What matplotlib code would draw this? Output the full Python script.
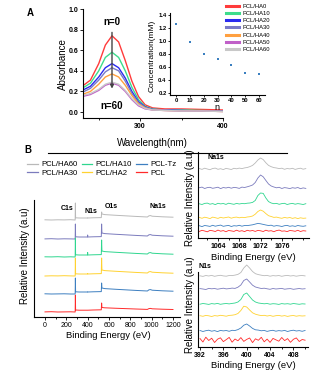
import numpy as np
import matplotlib
matplotlib.use('Agg')
import matplotlib.pyplot as plt
from matplotlib.lines import Line2D

plt.rcParams['font.family'] = ['Liberation Sans', 'DejaVu Sans']

# ---------------- Panel A data ----------------
wavelength = [230, 240, 250, 258, 266, 274, 282, 290, 298, 306, 315, 330, 350, 375, 400]
abs_labels = ['PCL/HA0', 'PCL/HA10', 'PCL/HA20', 'PCL/HA30', 'PCL/HA40', 'PCL/HA50', 'PCL/HA60']
abs_ha0 = [0.25, 0.31, 0.47, 0.65, 0.74, 0.68, 0.50, 0.30, 0.15, 0.07, 0.04, 0.03, 0.03, 0.025, 0.02]
abs_ha10 = [0.23, 0.28, 0.40, 0.53, 0.58, 0.53, 0.40, 0.24, 0.12, 0.055, 0.03, 0.02, 0.02, 0.015, 0.01]
abs_ha20 = [0.21, 0.25, 0.34, 0.43, 0.47, 0.43, 0.33, 0.20, 0.10, 0.05, 0.025, 0.02, 0.015, 0.01, 0.01]
abs_ha30 = [0.19, 0.23, 0.31, 0.39, 0.43, 0.40, 0.30, 0.18, 0.09, 0.045, 0.025, 0.02, 0.015, 0.01, 0.01]
abs_ha40 = [0.17, 0.20, 0.27, 0.34, 0.37, 0.34, 0.26, 0.16, 0.08, 0.04, 0.02, 0.015, 0.01, 0.01, 0.005]
abs_ha50 = [0.15, 0.17, 0.21, 0.26, 0.28, 0.26, 0.20, 0.12, 0.06, 0.03, 0.02, 0.015, 0.01, 0.01, 0.005]
abs_ha60 = [0.16, 0.18, 0.22, 0.27, 0.29, 0.27, 0.21, 0.13, 0.07, 0.035, 0.02, 0.015, 0.01, 0.01, 0.005]
abs_colors = ['#ff3b3b', '#3ddc8c', '#2a2af0', '#7a7ac8', '#ffa040', '#c060c8', '#c8c8c8']

n_values = [0, 10, 20, 30, 40, 50, 60]
concentration = [1.26, 0.99, 0.80, 0.72, 0.63, 0.51, 0.50]

# ---------------- Panel B data ----------------
xps_labels = ['PCL/HA60', 'PCL/HA30', 'PCL/HA10', 'PCL/HA2', 'PCL-Tz', 'PCL']
xps_colors = ['#b9b9b9', '#7b7bbd', '#2fd68f', '#ffd230', '#3d7fc0', '#ff2a2a']

survey_E = [0, 60, 120, 180, 240, 283, 285, 287, 320, 398, 400, 402, 450, 528, 531, 534,
            560, 650, 750, 850, 960, 975, 990, 1005, 1100, 1200]
survey_ha60 = [0.2, 0.0, 0.2, 0.1, 0.3, 0.0, 17, 2.2, 2.0, 2.0, 2.3, 2.0, 2.2, 2.4, 8, 6.0,
               5.4, 4.8, 4.2, 3.6, 3.0, 4.2, 4.4, 3.8, 3.2, 2.8]
survey_ha30 = [0.1, 0.3, 0.0, 0.2, 0.1, 0.0, 15, 2.2, 2.0, 2.0, 4.0, 2.0, 2.2, 2.4, 15, 6.0,
               5.4, 4.8, 4.2, 3.6, 3.0, 4.2, 4.4, 3.8, 3.2, 2.8]
survey_ha10 = [0.2, 0.1, 0.3, 0.0, 0.2, 0.0, 19, 2.2, 2.0, 2.0, 4.5, 2.0, 2.2, 2.4, 17, 6.0,
               5.4, 4.8, 4.2, 3.6, 3.0, 4.2, 4.4, 3.8, 3.2, 2.8]
survey_ha2 = [0.0, 0.2, 0.1, 0.3, 0.1, 0.0, 18, 2.2, 2.0, 2.0, 2.5, 2.0, 2.2, 2.4, 18, 6.0,
              5.4, 4.8, 4.2, 3.6, 3.0, 4.2, 4.4, 3.8, 3.2, 2.8]
survey_tz = [0.2, 0.0, 0.1, 0.2, 0.0, 0.0, 16, 2.2, 2.0, 2.0, 2.3, 2.0, 2.2, 2.4, 11, 6.0,
             5.4, 4.8, 4.2, 3.6, 3.0, 4.2, 4.4, 3.8, 3.2, 2.8]
survey_pcl = [0.1, 0.3, 0.0, 0.1, 0.2, 0.0, 17, 2.0, 1.8, 1.8, 1.8, 1.8, 2.0, 2.2, 9, 4.5,
              4.2, 3.8, 3.4, 3.0, 2.6, 3.4, 3.6, 3.2, 2.8, 2.5]

na_E = np.arange(1060.5, 1080.6, 0.5)
na_ha60 = [0.5, -0.4, 0.8, 0.0, -0.7, 0.5, 0.9, -0.3, 0.3, -0.6, 0.6, 0.1, -0.5, 0.7, 0.2, 0.9, 0.4,
           1.1, 1.5, 2.4, 3.6, 6.0, 9.0, 11.0, 9.4, 6.2, 3.6, 2.3, 1.4, 1.0, 0.4, 0.8, -0.3, 0.5, 0.1,
           0.7, -0.4, 0.3, 0.8, -0.2, 0.4]
na_ha30 = [0.3, 0.9, -0.5, 0.4, 0.7, -0.3, 0.2, 0.8, -0.6, 0.5, 0.0, 0.7, -0.2, 0.6, 0.3, -0.4, 0.9,
           0.5, 1.2, 2.0, 3.0, 5.5, 10.0, 13.0, 11.2, 7.5, 4.0, 2.0, 1.0, 0.2, 0.7, -0.5, 0.4, 0.0,
           -0.6, 0.3, -0.2, 0.5, -0.7, 0.1, -0.4]
na_ha10 = [0.2, -0.5, 0.6, 0.9, -0.2, 0.4, -0.6, 0.7, 0.1, 0.5, -0.4, 0.8, 0.2, -0.3, 0.6, 0.0, 0.5,
           0.3, 0.8, 1.0, 1.6, 3.5, 8.5, 11.0, 10.6, 6.0, 2.4, 1.0, 0.3, 0.6, -0.3, 0.4, 0.7, -0.5,
           0.2, 0.6, -0.2, 0.4, 0.0, -0.5, 0.3]
na_ha2 = [0.6, -0.3, 0.8, 0.2, -0.6, 0.9, 0.3, -0.4, 0.7, 0.0, 0.5, 1.0, -0.2, 0.6, 0.9, 0.2, 0.7,
          0.4, 1.0, 1.3, 2.0, 3.8, 6.5, 8.0, 6.8, 4.4, 2.3, 1.5, 0.6, 0.9, 0.2, -0.3, 0.6, 0.0, 0.5,
          -0.4, 0.3, -0.6, 0.2, -0.3, -0.1]
na_tz = [0.3, -0.6, 0.5, 0.1, -0.4, 0.7, -0.2, 0.4, 0.9, -0.3, 0.2, 0.6, -0.5, 0.3, 0.0, 0.7, -0.2,
         0.5, 0.4, 0.8, 1.2, 1.9, 2.6, 2.2, 1.6, 1.0, 0.5, 0.8, -0.2, 0.4, 0.1, -0.5, 0.3, 0.6, -0.3,
         0.2, -0.4, 0.5, 0.0, -0.3, 0.2]
na_pcl = [-0.4, 0.7, 0.0, -0.8, 0.6, 0.2, -0.5, 0.9, -0.2, 0.4, -0.7, 0.5, 0.1, -0.4, 0.8, -0.3, 0.3,
          -0.6, 0.7, 0.0, 0.5, -0.4, 0.6, 0.2, -0.5, 0.8, -0.1, 0.3, -0.7, 0.4, 0.9, -0.2, 0.1, -0.6,
          0.5, 0.2, -0.3, 0.7, -0.5, 0.3, 0.0]

n_E = np.arange(392.0, 410.1, 0.5)
n_ha60 = [0.2, -0.4, 0.5, 0.0, 0.6, -0.3, 0.3, 0.7, 0.1, -0.2, 0.5, 0.4, 0.9, 1.6, 3.5, 8.0, 11.0,
          8.0, 4.5, 2.3, 1.4, 0.8, 0.3, 0.6, -0.2, 0.4, 0.1, 0.5, -0.3, 0.3, 0.6, 0.0, 0.4, -0.2,
          0.3, 0.5, 0.1]
n_ha30 = [0.4, 0.0, -0.5, 0.6, 0.2, 0.5, -0.2, 0.3, 0.8, 0.1, 0.4, 0.9, 0.6, 1.8, 4.0, 8.5, 10.0,
          7.0, 3.8, 2.0, 1.2, 0.5, 0.8, 0.2, -0.3, 0.5, 0.0, 0.3, 0.6, -0.2, 0.2, 0.4, -0.3, 0.1,
          0.5, 0.0, 0.3]
n_ha10 = [-0.2, 0.5, 0.1, -0.4, 0.4, 0.0, 0.6, -0.3, 0.2, 0.5, 0.1, 0.6, 1.0, 2.0, 4.5, 9.5, 11.0,
          7.5, 4.0, 2.0, 1.0, 0.6, 0.2, 0.5, -0.2, 0.3, 0.1, -0.4, 0.4, 0.0, 0.3, -0.2, 0.5, 0.1,
          -0.3, 0.2, 0.0]
n_ha2 = [0.3, -0.3, 0.6, 0.2, -0.5, 0.4, 0.0, 0.7, 0.3, -0.2, 0.6, 0.8, 1.3, 2.5, 5.5, 9.8, 9.0,
         6.0, 3.2, 1.8, 1.0, 0.4, 0.7, 0.0, 0.5, -0.3, 0.3, 0.6, -0.1, 0.4, -0.4, 0.2, 0.5, -0.2,
         0.3, 0.0, 0.2]
n_tz = [0.5, -0.5, 0.3, 0.8, -0.2, 0.4, -0.6, 0.6, 0.1, 0.5, -0.3, 0.7, 0.5, 1.4, 3.0, 5.8, 7.0,
        5.0, 2.6, 1.2, 0.9, 0.2, 0.6, -0.4, 0.3, 0.7, -0.2, 0.4, 0.0, 0.6, -0.5, 0.3, 0.8, 0.0,
        0.4, -0.3, 0.5]
n_pcl = [1.5, -2.0, 2.8, -0.5, 1.8, -2.5, 0.8, 2.2, -1.6, 0.4, 2.6, -2.2, 1.0, -0.8, 2.4, -1.4, 0.6,
         2.0, -2.6, 1.2, -0.3, 2.7, -1.8, 0.9, -2.4, 1.6, 0.2, -1.2, 2.5, -0.6, 1.4, -2.3, 0.7, 2.1,
         -1.5, 0.5, -0.2]

# ---------------- layout helpers ----------------
W, H = 327, 380
fig = plt.figure(figsize=(W / 100, H / 100), dpi=100)


def add_ax(l, t, r, b):
    ax = fig.add_axes([l / W, 1 - b / H, (r - l) / W, (b - t) / H])
    ax.patch.set_alpha(0)
    for s in ['top', 'right']:
        ax.spines[s].set_visible(False)
    for s in ['left', 'bottom']:
        ax.spines[s].set_linewidth(0.8)
    return ax


def ftext(x, y, s, **kw):
    kw.setdefault('ha', 'center')
    kw.setdefault('va', 'center')
    fig.text(x / W, 1 - y / H, s, **kw)


# ---------------- Panel A main ----------------
axA = add_ax(83, 9, 223, 118)
series_A = [abs_ha0, abs_ha10, abs_ha20, abs_ha30, abs_ha40, abs_ha50, abs_ha60]
for vals, c, lab in zip(series_A, abs_colors, abs_labels):
    axA.plot(wavelength, vals, color=c, lw=1.0, label=lab)
axA.set_xlim(231, 400)
axA.set_ylim(-0.058, 1.0)
axA.set_xticks([300, 400])
axA.set_xticks([250, 350], minor=True)
axA.set_yticks([0.0, 0.2, 0.4, 0.6, 0.8, 1.0])
axA.set_yticklabels(['0.0', '0.2', '0.4', '0.6', '0.8', '1.0'])
axA.tick_params(labelsize=5, length=2, width=0.6, pad=1.5)
axA.tick_params(which='minor', length=1.5, width=0.6)
for t in axA.get_xticklabels() + axA.get_yticklabels():
    t.set_fontweight('bold')
axA.annotate('', xy=(266, 0.2), xytext=(266, 0.80),
             arrowprops=dict(arrowstyle='-|>', color='#444444', lw=1.0, mutation_scale=5))
axA.text(266, 0.87, 'n=0', ha='center', va='center', fontsize=7, fontweight='bold')
axA.text(266, 0.06, 'n=60', ha='center', va='center', fontsize=7, fontweight='bold')

# legend A
handles_A = [Line2D([], [], color=c, lw=2.2) for c in abs_colors]
fig.legend(handles_A, abs_labels, loc='upper left', bbox_to_anchor=(226 / W, 1 - 3.5 / H),
           frameon=False, fontsize=4.2, handlelength=2.3, handletextpad=0.5,
           labelspacing=0.38, borderpad=0, borderaxespad=0)

# inset
axI = add_ax(170, 13, 265, 95)
axI.scatter(n_values, concentration, s=2.5, marker='s', color='#3a7fc0', linewidths=0)
axI.set_xlim(-4.3, 64.3)
axI.set_ylim(0.17, 1.43)
axI.set_xticks(n_values)
axI.set_yticks([0.2, 0.4, 0.6, 0.8, 1.0, 1.2, 1.4])
axI.tick_params(labelsize=4.2, length=1.5, width=0.6, pad=1)
for t in axI.get_xticklabels() + axI.get_yticklabels():
    t.set_fontweight('bold')

ftext(30, 13, 'A', fontsize=7, fontweight='bold')
ftext(63, 64, 'Absorbance', fontsize=7, rotation=90)
ftext(152, 143, 'Wavelength(nm)', fontsize=7)
ftext(152, 56, 'Concentration(mM)', fontsize=6, rotation=90)
ftext(217, 107, 'n', fontsize=6.5)

fig.add_artist(Line2D([48 / W, 287 / W], [1 - 153 / H, 1 - 153 / H], color='black', lw=0.8))

# ---------------- Panel B ----------------
ftext(28, 150, 'B', fontsize=7, fontweight='bold')

handles_B = [Line2D([], [], color=c, lw=0.9) for c in xps_colors]
fig.legend(handles_B, xps_labels, loc='upper left', bbox_to_anchor=(27 / W, 1 - 161 / H),
           frameon=False, fontsize=5.6, ncol=3, handlelength=1.4, handletextpad=0.4,
           labelspacing=0.15, columnspacing=0.55, borderpad=0, borderaxespad=0)

# survey
axS = add_ax(34, 200, 180, 317)
survey = [survey_ha60, survey_ha30, survey_ha10, survey_ha2, survey_tz, survey_pcl]
survey_offsets = [97, 78, 60, 41, 23, 5]
for vals, off, c in zip(survey, survey_offsets, xps_colors):
    axS.plot(survey_E, np.array(vals) + off, color=c, lw=0.7)
axS.set_xlim(-103, 1266)
axS.set_ylim(0, 117)
axS.set_yticks([])
axS.set_xticks([0, 200, 400, 600, 800, 1000, 1200])
axS.set_xticks([100, 300, 500, 700, 900, 1100], minor=True)
axS.tick_params(labelsize=5, length=2, width=0.6, pad=1.5)
axS.tick_params(which='minor', length=1.2, width=0.6)
ftext(67, 208, 'C1s', fontsize=5, fontweight='bold')
ftext(91, 212, 'N1s', fontsize=5, fontweight='bold')
ftext(111, 206, 'O1s', fontsize=5, fontweight='bold')
ftext(158, 207, 'Na1s', fontsize=5, fontweight='bold')
ftext(25, 256, 'Relative Intensity (a.u)', fontsize=7, rotation=90)
ftext(108, 335, 'Binding Energy (eV)', fontsize=6.8)

# Na1s
axN = add_ax(198, 152, 309, 238)
na_series = [na_ha60, na_ha30, na_ha10, na_ha2, na_tz, na_pcl]
na_offsets = [69, 50, 34, 20, 12, 7]
for vals, off, c in zip(na_series, na_offsets, xps_colors):
    axN.plot(na_E, np.array(vals) + off, color=c, lw=0.6)
axN.set_xlim(1060.25, 1081.1)
axN.set_ylim(0, 86)
axN.set_yticks([])
axN.set_xticks([1064, 1068, 1072, 1076])
axN.set_xticks([1062, 1066, 1070, 1074, 1078, 1080], minor=True)
axN.tick_params(labelsize=5, length=2, width=0.6, pad=1.5)
axN.tick_params(which='minor', length=1.2, width=0.6)
for t in axN.get_xticklabels():
    t.set_fontweight('bold')
ftext(216, 158, 'Na1s', fontsize=5, fontweight='bold')
ftext(190, 198, 'Relative Intensity (a.u)', fontsize=7, rotation=90)
ftext(253, 257, 'Binding Energy (eV)', fontsize=6.8)

# N1s
axM = add_ax(198, 262, 308, 347)
n_series = [n_ha60, n_ha30, n_ha10, n_ha2, n_tz, n_pcl]
n_offsets = [71, 58, 43, 31, 16, 7]
for vals, off, c in zip(n_series, n_offsets, xps_colors):
    axM.plot(n_E, np.array(vals) + off, color=c, lw=0.6)
axM.set_xlim(391.66, 410.5)
axM.set_ylim(0, 85)
axM.spines['left'].set_bounds(0, 75)
axM.set_yticks([])
axM.set_xticks([392, 396, 400, 404, 408])
axM.set_xticks([394, 398, 402, 406, 410], minor=True)
axM.tick_params(labelsize=5, length=2, width=0.6, pad=1.5)
axM.tick_params(which='minor', length=1.2, width=0.6)
for t in axM.get_xticklabels():
    t.set_fontweight('bold')
ftext(205, 267, 'N1s', fontsize=5, fontweight='bold')
ftext(190, 305, 'Relative Intensity (a.u)', fontsize=7, rotation=90)
ftext(253, 365, 'Binding Energy (eV)', fontsize=6.8)

fig.savefig('out.png', dpi=100)
